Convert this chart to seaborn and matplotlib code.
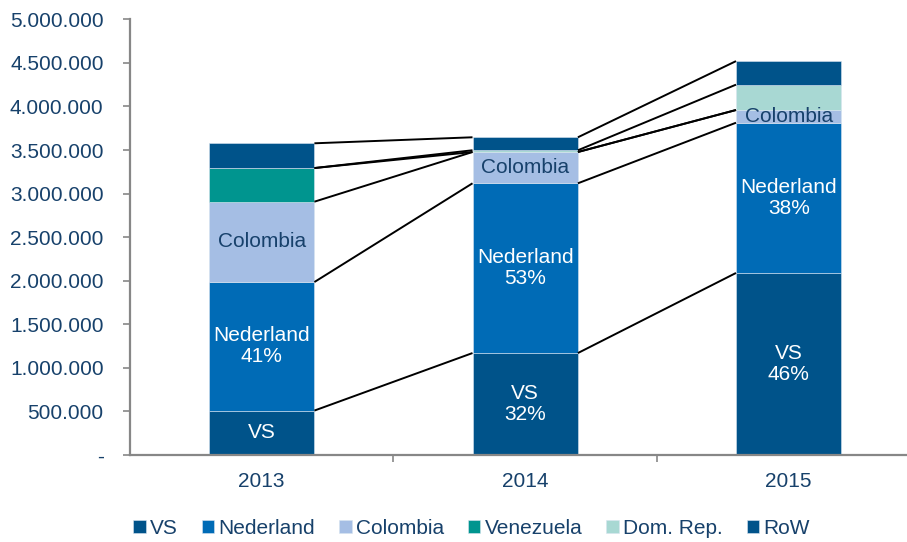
import matplotlib
matplotlib.use("Agg")
import matplotlib.pyplot as plt
import matplotlib.ticker as mticker
import seaborn as sns
import numpy as np
import pandas as pd

# data
years = ["2013", "2014", "2015"]
series = ["VS", "Nederland", "Colombia", "Venezuela", "Dom. Rep.", "RoW"]
vs = [510000, 1170000, 2089000]
nederland = [1475000, 1948000, 1724000]
colombia = [922000, 359000, 146000]
venezuela = [386000, 0, 0]
domrep = [0, 20000, 291000]
row = [284000, 149000, 270000]

colors = ["#00538A", "#006BB6", "#A5BEE4", "#00958F", "#A8D8D3", "#00538A"]
text_col = "#17416B"
axis_col = "#878787"

# which segments carry a label (series, year) -> text, colour
seg_labels = {
    ("VS", 0): ("VS", "white"),
    ("Nederland", 0): ("Nederland\n41%", "white"),
    ("Colombia", 0): ("Colombia", text_col),
    ("VS", 1): ("VS\n32%", "white"),
    ("Nederland", 1): ("Nederland\n53%", "white"),
    ("Colombia", 1): ("Colombia", text_col),
    ("VS", 2): ("VS\n46%", "white"),
    ("Nederland", 2): ("Nederland\n38%", "white"),
    ("Colombia", 2): ("Colombia", text_col),
}

values = [vs, nederland, colombia, venezuela, domrep, row]

plt.rcParams["font.family"] = ["Liberation Sans", "DejaVu Sans"]

fig = plt.figure(figsize=(9.07, 5.42), dpi=100)
ax = fig.add_axes([0.1433, 0.1605, 0.8567, 0.8039])

bar_w = 0.4
bottom = np.zeros(len(years))
tops = []
for name, vals, col in zip(series, values, colors):
    df = pd.DataFrame({"year": years, "value": vals})
    sns.barplot(data=df, x="year", y="value", bottom=bottom, color=col,
                width=bar_w, errorbar=None, label=name, ax=ax,
                edgecolor="#D8E4F0", linewidth=0.4, saturation=1)
    for i in range(len(years)):
        if (name, i) in seg_labels and vals[i] > 0:
            txt, tc = seg_labels[(name, i)]
            ax.text(i, bottom[i] + vals[i] / 2, txt, ha="center", va="center",
                    fontsize=15, color=tc, linespacing=1.15)
    bottom = bottom + np.array(vals)
    tops.append(bottom.copy())

# connector lines between the tops of matching segments
for t in tops:
    for i in range(len(years) - 1):
        ax.plot([i + bar_w / 2, i + 1 - bar_w / 2], [t[i], t[i + 1]],
                color="black", lw=1.4, zorder=3, solid_capstyle="butt")

ax.set_xlim(-0.5, 2.449)
ax.set_ylim(0, 5000000)
ax.yaxis.set_major_locator(mticker.MultipleLocator(500000))
ax.yaxis.set_major_formatter(mticker.FuncFormatter(
    lambda v, p: "-" if v == 0 else f"{int(v):,}".replace(",", ".")))
ax.set_xlabel("")
ax.set_ylabel("")

for s in ["top", "right"]:
    ax.spines[s].set_visible(False)
for s in ["left", "bottom"]:
    ax.spines[s].set_color(axis_col)
    ax.spines[s].set_linewidth(1.6)

ax.tick_params(axis="y", direction="out", length=5, width=1.2, color=axis_col,
               labelsize=15, labelcolor=text_col, pad=14)
ax.tick_params(axis="x", which="major", length=0, labelsize=15,
               labelcolor=text_col, pad=12)
ax.set_xticks([0.5, 1.5], minor=True)
ax.tick_params(axis="x", which="minor", direction="out", length=5, width=1.2,
               color=axis_col)

handles, labels = ax.get_legend_handles_labels()
if ax.get_legend() is not None:
    ax.get_legend().remove()
fig.legend(handles, labels, loc="center", bbox_to_anchor=(0.52, 0.025), ncol=6,
           frameon=False, fontsize=15, handlelength=0.6, handleheight=0.6,
           handletextpad=0.2, columnspacing=1.15, labelcolor=text_col)

fig.savefig("out.png", dpi=100)
